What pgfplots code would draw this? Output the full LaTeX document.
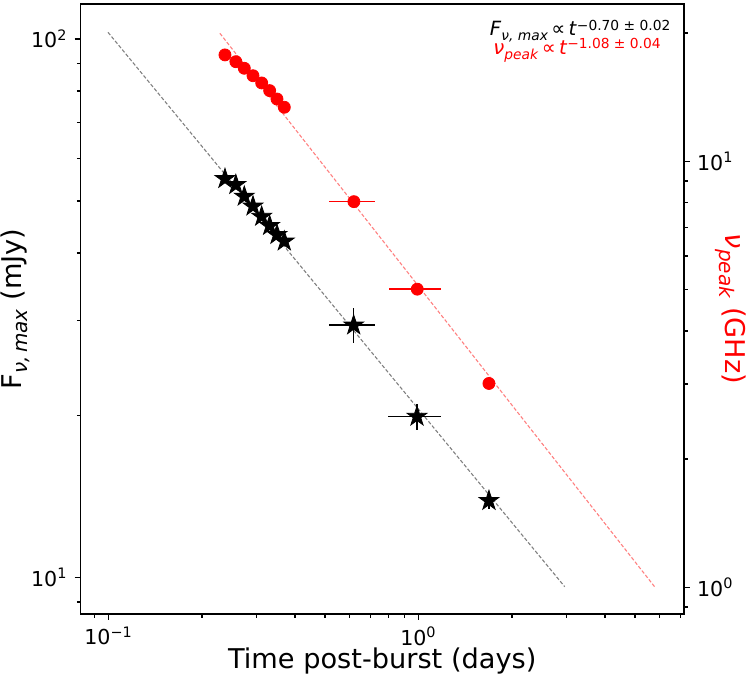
\documentclass[border=0pt]{standalone}
\usepackage{pgfplots}
\pgfplotsset{compat=1.18}
\usepackage{fontspec}
\setmainfont{DejaVu Sans}
\definecolor{mplred}{rgb}{1,0,0}
\definecolor{fitred}{rgb}{1,0.5,0.5}
\definecolor{fitgray}{rgb}{0.5,0.5,0.5}
\pgfdeclareplotmark{fstar}{%
 \pgfpathmoveto{\pgfpointpolar{90}{\pgfplotmarksize}}%
 \pgfpathlineto{\pgfpointpolar{126}{0.382\pgfplotmarksize}}%
 \pgfpathlineto{\pgfpointpolar{162}{\pgfplotmarksize}}%
 \pgfpathlineto{\pgfpointpolar{198}{0.382\pgfplotmarksize}}%
 \pgfpathlineto{\pgfpointpolar{234}{\pgfplotmarksize}}%
 \pgfpathlineto{\pgfpointpolar{270}{0.382\pgfplotmarksize}}%
 \pgfpathlineto{\pgfpointpolar{306}{\pgfplotmarksize}}%
 \pgfpathlineto{\pgfpointpolar{342}{0.382\pgfplotmarksize}}%
 \pgfpathlineto{\pgfpointpolar{18}{\pgfplotmarksize}}%
 \pgfpathlineto{\pgfpointpolar{54}{0.382\pgfplotmarksize}}%
 \pgfpathclose
 \pgfusepathqfillstroke}

\pgfplotstableread{
t F ex ey
0.2375 55.0 0 0
0.2575 53.6 0 0
0.2742 51.0 0 0
0.2925 48.9 0 0
0.3120 46.8 0 0
0.3310 45.0 0 0
0.3496 43.3 0 0
0.3691 42.1 0 0
0.618 29.4 0.104 2.2
0.989 19.9 0.19 1.1
1.688 13.88 0 0.5
}\fluxdata

\pgfplotstableread{
t nu ex
0.2375 17.77 0
0.2575 17.13 0
0.2742 16.53 0
0.2925 15.88 0
0.3120 15.27 0
0.3310 14.65 0
0.3496 14.00 0
0.3691 13.39 0
0.619 8.04 0.104
0.991 5.01 0.19
1.688 3.01 0
}\peakdata

\newcommand{\sups}[1]{\raisebox{0.27em}{\fontsize{6.9}{8}\selectfont #1}}
\newcommand{\subs}[1]{\raisebox{-0.25em}{\fontsize{6.9}{8}\selectfont #1}}
\newcommand{\lsubs}[1]{\raisebox{-0.22em}{\fontsize{10}{12}\selectfont #1}}

\begin{document}
\begin{tikzpicture}
\useasboundingbox (0,0) rectangle (374pt,339pt);
\begin{axis}[
  at={(40.25pt,32pt)}, anchor=south west,
  scale only axis, width=301.75pt, height=304.85pt,
  xmode=log, ymode=log,
  xmin=0.0812, xmax=7.19,
  ymin=8.55, ymax=116,
  tick align=outside,
  major tick length=3pt, minor tick length=1.8pt,
  every tick/.append style={black, line width=0.75pt},
  axis line style={line width=0.9pt},
  tick label style={font=\fontsize{10.3}{12}\selectfont},
  xticklabel style={inner sep=1pt, yshift=-2.4pt},
  xtick pos=lower, ytick pos=left,
  xtick={0.1,1}, xticklabels={10\textsuperscript{−1},10\textsuperscript{0}},
  minor xtick={0.09,0.2,0.3,0.4,0.5,0.6,0.7,0.8,0.9,2,3,4,5,6,7},
  ytick={10,100}, yticklabels={10\textsuperscript{1},10\textsuperscript{2}},
  minor ytick={9,20,30,40,50,60,70,80,90},
  xlabel={Time post-burst (days)},
  ylabel={F\lsubs{\textit{ν,\,max}} (mJy)},
  xlabel style={font=\fontsize{13.6}{15}\selectfont, inner sep=0pt, at={(rel axis cs:0.5,0)}, anchor=center, yshift=-23.5pt},
  ylabel style={font=\fontsize{13.6}{15}\selectfont, inner sep=0pt, at={(rel axis cs:0,0.5)}, anchor=center, yshift=32.5pt},
  clip=false,
]
\addplot[fitgray, line width=0.55pt, dash pattern=on 1.8pt off 1pt] coordinates {(0.0996,102.9) (2.963,9.61)};
\addplot[black, only marks, mark=fstar, mark size=5.2pt,
  error bars/.cd, x dir=both, x explicit, y dir=both, y explicit,
  error bar style={line width=0.75pt, black}, error mark=none]
  table[x=t, y=F, x error=ex, y error=ey] {\fluxdata};
\node[anchor=base east, inner sep=0pt, font=\fontsize{9.8}{10}\selectfont] at (rel axis cs:0.978,0.948)
  {\textit{F}\subs{\textit{ν, max}}\,∝\,\textit{t}\sups{−0.70 ± 0.02}};
\node[anchor=base east, inner sep=0pt, text=mplred, font=\fontsize{9.8}{10}\selectfont] at (rel axis cs:0.962,0.918)
  {\textit{ν}\subs{\textit{peak}}\,∝\,\textit{t}\sups{−1.08 ± 0.04}};
\end{axis}
\begin{axis}[
  at={(40.25pt,32pt)}, anchor=south west,
  scale only axis, width=301.75pt, height=304.85pt,
  xmode=log, ymode=log,
  xmin=0.0812, xmax=7.19,
  ymin=0.866, ymax=23.36,
  tick align=outside,
  major tick length=3pt, minor tick length=1.8pt,
  every tick/.append style={black, line width=0.75pt},
  axis line style={line width=0.9pt},
  tick label style={font=\fontsize{10.3}{12}\selectfont},
  hide x axis,
  axis y line*=right,
  ytick={1,10}, yticklabels={10\textsuperscript{0},10\textsuperscript{1}},
  minor ytick={0.9,2,3,4,5,6,7,8,9,20},
  ylabel={\textit{ν}\lsubs{\textit{peak}} (GHz)},
  ylabel style={font=\fontsize{13.6}{15}\selectfont, inner sep=0pt, at={(rel axis cs:1,0.5)}, anchor=center, rotate=180, yshift=23.25pt, text=mplred},
  clip=false,
]
\addplot[fitred, line width=0.55pt, dash pattern=on 1.8pt off 1pt] coordinates {(0.2287,19.97) (5.80,1.0)};
\addplot[mplred, only marks, mark=*, mark size=3pt, mark options={draw=mplred, fill=mplred},
  error bars/.cd, x dir=both, x explicit,
  error bar style={line width=0.75pt, mplred}, error mark=none]
  table[x=t, y=nu, x error=ex] {\peakdata};
\end{axis}
\end{tikzpicture}
\end{document}
